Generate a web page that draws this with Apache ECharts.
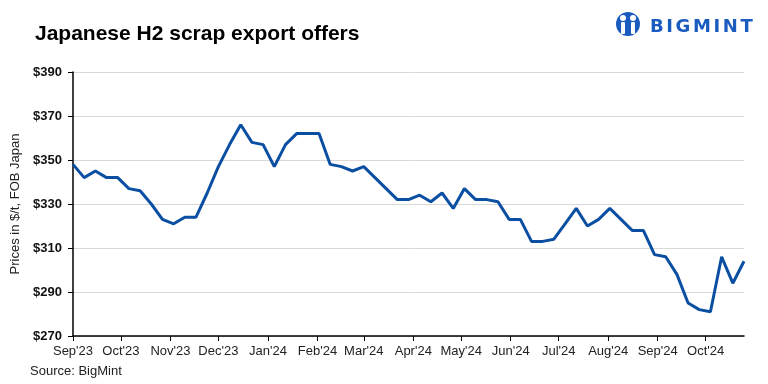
<!DOCTYPE html>
<html>
<head>
<meta charset="utf-8">
<script src="https://cdn.jsdelivr.net/npm/echarts@6/dist/echarts.min.js"></script>
<style>html,body{margin:0;padding:0;background:#fff}#c{width:768px;height:384px}</style>
</head>
<body>
<div id="c"></div>
<script>
const dates = [
 '2023-09-01','2023-09-08','2023-09-15','2023-09-22','2023-09-29',
 '2023-10-06','2023-10-13','2023-10-20','2023-10-27',
 '2023-11-03','2023-11-10','2023-11-17','2023-11-24',
 '2023-12-01','2023-12-08','2023-12-15','2023-12-22','2023-12-29',
 '2024-01-05','2024-01-12','2024-01-19','2024-01-26',
 '2024-02-02','2024-02-09','2024-02-16','2024-02-23',
 '2024-03-01','2024-03-08','2024-03-15','2024-03-22','2024-03-29',
 '2024-04-05','2024-04-12','2024-04-19','2024-04-26',
 '2024-05-03','2024-05-10','2024-05-17','2024-05-24','2024-05-31',
 '2024-06-07','2024-06-14','2024-06-21','2024-06-28',
 '2024-07-05','2024-07-12','2024-07-19','2024-07-26',
 '2024-08-02','2024-08-09','2024-08-16','2024-08-23','2024-08-30',
 '2024-09-06','2024-09-13','2024-09-20','2024-09-27',
 '2024-10-04','2024-10-11','2024-10-18','2024-10-25'
];
const prices = [
 348,342,345,342,342,337,336,330,323,321,324,324,335,347,357,366,358,357,347,357,
 362,362,362,348,347,345,347,342,337,332,332,334,331,335,328,337,332,332,331,323,
 323,313,313,314,321,328,320,323,328,323,318,318,307,306,298,285,282,281,306,294,304
];
const monthStarts = ['2023-09-01','2023-10-01','2023-11-01','2023-12-01','2024-01-01','2024-02-01','2024-03-01','2024-04-01','2024-05-01','2024-06-01','2024-07-01','2024-08-01','2024-09-01','2024-10-01'];
const monthLabels = ["Sep'23","Oct'23","Nov'23","Dec'23","Jan'24","Feb'24","Mar'24","Apr'24","May'24","Jun'24","Jul'24","Aug'24","Sep'24","Oct'24"];
const yTicks = [270,290,310,330,350,370,390];

const ts = s => Date.parse(s + 'T00:00:00Z');
const monthTs = monthStarts.map(ts);
const seriesData = dates.map((d,i)=>[ts(d), prices[i]]);

// logo letters with letter spacing
const logoText = 'BIGMINT';
const logoFont = 'bold 18px DejaVu Sans, sans-serif';
const mc = document.createElement('canvas').getContext('2d');
mc.font = logoFont;
const logoEls = [];
let lx = 650;
for (const ch of logoText) {
  logoEls.push({type:'text', x:lx, y:27, style:{text:ch, font:logoFont, fill:'#1a5bbf', verticalAlign:'middle', align:'left'}});
  lx += mc.measureText(ch).width + 2.6;
}

const chart = echarts.init(document.getElementById('c'), null, {renderer:'canvas'});
chart.setOption({
  animation:false,
  backgroundColor:'#fff',
  textStyle:{fontFamily:'Liberation Sans, Arial, sans-serif'},
  title:{
    text:'Japanese H2 scrap export offers',
    left:35, top:24, padding:0,
    textStyle:{fontSize:21, fontWeight:'bold', color:'#000', fontFamily:'Liberation Sans, Arial, sans-serif'}
  },
  grid:{left:73, right:24, top:72, bottom:48, containLabel:false},
  xAxis:{
    type:'value',
    min:ts(dates[0]), max:ts(dates[dates.length-1]),
    axisLine:{show:true, lineStyle:{color:'#000', width:1.5}},
    axisTick:{show:true, customValues:monthTs, length:5, lineStyle:{color:'#000'}},
    axisLabel:{
      customValues:monthTs, margin:9, fontSize:13, color:'#222',
      formatter:v=>{const i=monthTs.indexOf(v);return i>=0?monthLabels[i]:'';}
    },
    splitLine:{show:false}
  },
  yAxis:{
    type:'value', min:270, max:390,
    name:'Prices in $/t, FOB Japan', nameLocation:'middle', nameGap:50,
    nameTextStyle:{fontSize:13, color:'#222'},
    axisLine:{show:true, lineStyle:{color:'#000', width:1.5}},
    axisTick:{show:true, customValues:yTicks, length:5, lineStyle:{color:'#000'}},
    axisLabel:{customValues:yTicks, margin:11, fontSize:13, fontWeight:'bold', color:'#111', formatter:v=>'$'+v},
    splitLine:{show:true, lineStyle:{color:'#d9d9d9', width:1}}
  },
  series:[{
    type:'line', data:seriesData, symbol:'none',
    lineStyle:{color:'#0b4fa3', width:3},
    z:3
  }],
  graphic:[
    {type:'text', left:30, top:365, style:{text:'Source: BigMint', fontSize:13, fill:'#222', fontFamily:'Liberation Sans, Arial, sans-serif'}},
    {type:'circle', shape:{cx:628, cy:24, r:12}, style:{fill:'#1a5bbf'}},
    {type:'circle', shape:{cx:623, cy:18, r:3}, style:{fill:'#fff'}},
    {type:'circle', shape:{cx:633, cy:18, r:3}, style:{fill:'#fff'}},
    {type:'rect', shape:{x:621, y:22, width:4, height:12, r:1}, style:{fill:'#fff'}},
    {type:'rect', shape:{x:631, y:22, width:4, height:12, r:1}, style:{fill:'#fff'}},
    ...logoEls
  ]
});
</script>
</body>
</html>
